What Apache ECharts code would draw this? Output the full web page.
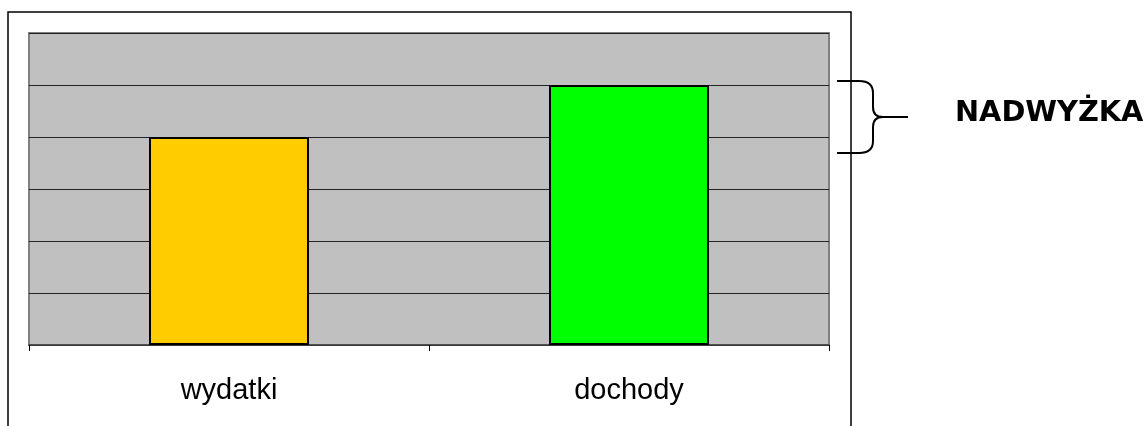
<!DOCTYPE html>
<html>
<head>
<meta charset="utf-8">
<script src="https://cdn.jsdelivr.net/npm/echarts@6/dist/echarts.min.js"></script>
<style>
html,body{margin:0;padding:0;background:#fff;}
#c{width:1144px;height:426px;}
</style>
</head>
<body>
<div id="c"></div>
<script>
const categories = ['wydatki', 'dochody'];
const values = [4, 5];
const barColors = ['#FFCC00', '#00FF00'];
const annotationText = 'NADWYŻKA';

(function () {
const chart = echarts.init(document.getElementById('c'), null, {renderer: 'canvas'});
chart.setOption({
  animation: false,
  backgroundColor: '#fff',
  grid: {
    left: 29, right: 315, top: 33, bottom: 81,
    show: true, backgroundColor: '#C0C0C0', borderColor: '#808080', borderWidth: 2
  },
  xAxis: {
    type: 'category',
    data: categories,
    axisLine: {show: true, lineStyle: {color: '#404040', width: 1.5}},
    axisTick: {show: true, length: 6, alignWithLabel: false, lineStyle: {color: '#000', width: 1}},
    axisLabel: {fontSize: 29, color: '#000', fontFamily: 'Liberation Sans, Arial, sans-serif', margin: 31}
  },
  yAxis: {
    type: 'value', min: 0, max: 6, interval: 1,
    axisLabel: {show: false}, axisLine: {show: false}, axisTick: {show: false},
    splitLine: {show: true, lineStyle: {color: '#222', width: 1}}
  },
  series: [{
    type: 'bar',
    barWidth: '40%',
    data: values.map((v, i) => ({value: v, itemStyle: {color: barColors[i]}})),
    itemStyle: {borderColor: '#000', borderWidth: 2}
  }]
});

const yHi = chart.convertToPixel({yAxisIndex: 0}, Math.max.apply(null, values));
const yLo = chart.convertToPixel({yAxisIndex: 0}, Math.min.apply(null, values));
const bTop = yHi - 4, bBot = yLo + 16, mid = (bTop + bBot) / 2;
const xr = chart.convertToPixel({xAxisIndex: 0}, categories[categories.length - 1]) + 200;
const x0 = xr + 8, xv = xr + 44, xt = xr + 79;
const ls = {stroke: '#000', lineWidth: 2, fill: 'none'};
const seg = (a, b, c, d) => ({type: 'line', shape: {x1: a, y1: b, x2: c, y2: d}, style: ls, silent: true});
const qc = (a, b, cx, cy, c, d) => ({type: 'bezierCurve', shape: {x1: a, y1: b, cpx1: cx, cpy1: cy, x2: c, y2: d}, style: ls, silent: true});

chart.setOption({
  graphic: [
    {type: 'rect', shape: {x: 8, y: 12, width: 843, height: 440}, style: {fill: 'none', stroke: '#000', lineWidth: 1.5}, silent: true},
    seg(x0, bTop, xv - 14, bTop),
    qc(xv - 14, bTop, xv, bTop, xv, bTop + 12),
    seg(xv, bTop + 12, xv, mid - 10),
    qc(xv, mid - 10, xv, mid, xv + 10, mid),
    seg(xv + 10, mid, xt, mid),
    qc(xv + 10, mid, xv, mid, xv, mid + 10),
    seg(xv, mid + 10, xv, bBot - 12),
    qc(xv, bBot - 12, xv, bBot, xv - 14, bBot),
    seg(xv - 14, bBot, x0, bBot),
    {type: 'text', x: 955, y: mid - 3, style: {text: annotationText, fill: '#000', font: 'bold 28.8px "DejaVu Sans", Verdana, sans-serif', textVerticalAlign: 'middle', textAlign: 'left'}, silent: true}
  ]
});
})();
</script>
</body>
</html>
